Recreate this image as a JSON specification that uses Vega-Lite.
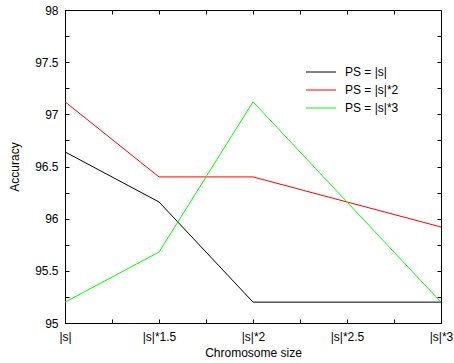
{
  "$schema": "https://vega.github.io/schema/vega-lite/v6.json",
  "width": 376,
  "height": 313,
  "autosize": "none",
  "padding": {"left": 65, "top": 10, "right": 13, "bottom": 40},
  "background": "white",
  "config": {
    "view": {"stroke": "black", "strokeWidth": 1},
    "font": "Liberation Sans",
    "axis": {
      "domainColor": "black",
      "tickColor": "black",
      "labelColor": "black",
      "titleColor": "black",
      "labelFont": "Liberation Sans",
      "titleFont": "Liberation Sans",
      "labelFontSize": 12,
      "titleFontSize": 12,
      "titleFontWeight": "normal",
      "grid": false,
      "labelFlush": false,
      "labelOverlap": false,
      "tickSize": -4
    }
  },
  "data": {
    "values": [
      {"size": 1, "series": "PS = |s|", "accuracy": 96.64},
      {"size": 1.5, "series": "PS = |s|", "accuracy": 96.16},
      {"size": 2, "series": "PS = |s|", "accuracy": 95.2},
      {"size": 2.5, "series": "PS = |s|", "accuracy": 95.2},
      {"size": 3, "series": "PS = |s|", "accuracy": 95.2},
      {"size": 1, "series": "PS = |s|*2", "accuracy": 97.12},
      {"size": 1.5, "series": "PS = |s|*2", "accuracy": 96.4},
      {"size": 2, "series": "PS = |s|*2", "accuracy": 96.4},
      {"size": 2.5, "series": "PS = |s|*2", "accuracy": 96.16},
      {"size": 3, "series": "PS = |s|*2", "accuracy": 95.92},
      {"size": 1, "series": "PS = |s|*3", "accuracy": 95.2},
      {"size": 1.5, "series": "PS = |s|*3", "accuracy": 95.68},
      {"size": 2, "series": "PS = |s|*3", "accuracy": 97.12},
      {"size": 2.5, "series": "PS = |s|*3", "accuracy": 96.16},
      {"size": 3, "series": "PS = |s|*3", "accuracy": 95.2}
    ]
  },
  "layer": [
    {
      "mark": {"type": "line", "strokeWidth": 1},
      "encoding": {
        "x": {
          "field": "size",
          "type": "quantitative",
          "scale": {"domain": [1, 3], "nice": false, "zero": false},
          "axis": {
            "orient": "bottom",
            "title": "Chromosome size",
            "titlePadding": 5,
            "labelPadding": 12,
            "values": [1, 1.25, 1.5, 1.75, 2, 2.25, 2.5, 2.75, 3],
            "labelExpr": "datum.value == 1 ? '|s|' : ((datum.value * 2) % 1 == 0 ? '|s|*' + datum.value : '')"
          }
        },
        "y": {
          "field": "accuracy",
          "type": "quantitative",
          "scale": {"domain": [95, 98], "nice": false, "zero": false},
          "axis": {
            "orient": "left",
            "title": "Accuracy",
            "titlePadding": 13,
            "labelPadding": 11,
            "values": [95, 95.25, 95.5, 95.75, 96, 96.25, 96.5, 96.75, 97, 97.25, 97.5, 97.75, 98],
            "labelExpr": "(datum.value * 2) % 1 == 0 ? format(datum.value, '~g') : ''"
          }
        },
        "color": {
          "field": "series",
          "type": "nominal",
          "scale": {"domain": ["PS = |s|", "PS = |s|*2", "PS = |s|*3"], "range": ["#000000", "#ff0000", "#00ff00"]},
          "legend": {
            "title": null,
            "orient": "none",
            "legendX": 250,
            "legendY": 56,
            "symbolType": "M-3,0H3",
            "symbolSize": 100,
            "symbolStrokeWidth": 1,
            "labelFont": "Liberation Sans",
            "labelFontSize": 12,
            "labelColor": "black",
            "labelOffset": 18,
            "rowPadding": 6
          }
        }
      }
    },
    {
      "mark": {"type": "line", "opacity": 0},
      "encoding": {
        "x": {
          "field": "size",
          "type": "quantitative",
          "axis": {
            "orient": "top",
            "title": null,
            "labels": false,
            "values": [1, 1.25, 1.5, 1.75, 2, 2.25, 2.5, 2.75, 3]
          }
        },
        "y": {
          "field": "accuracy",
          "type": "quantitative",
          "axis": {
            "orient": "right",
            "title": null,
            "labels": false,
            "values": [95, 95.25, 95.5, 95.75, 96, 96.25, 96.5, 96.75, 97, 97.25, 97.5, 97.75, 98]
          }
        },
        "detail": {"field": "series"}
      }
    }
  ],
  "resolve": {"axis": {"x": "independent", "y": "independent"}}
}
